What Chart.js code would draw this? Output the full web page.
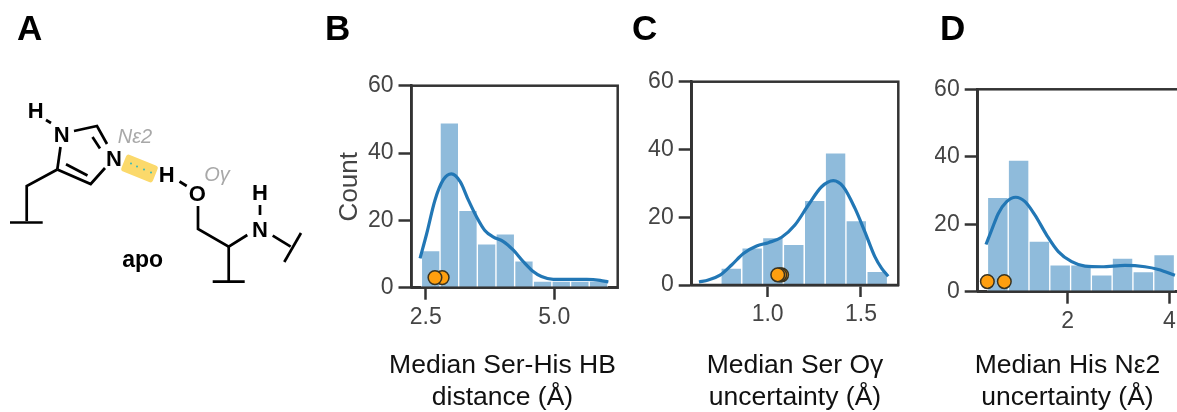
<!DOCTYPE html>
<html>
<head>
<meta charset="utf-8">
<title>Ser-His hydrogen bond histograms</title>
<script src="https://cdn.jsdelivr.net/npm/chart.js@4"></script>
<style>
  html, body { margin: 0; padding: 0; background: #fff; overflow: hidden; }
  #page { position: relative; width: 1177px; height: 412px; overflow: hidden; }
  canvas { position: absolute; }
  svg { position: absolute; left: 0; top: 0; }
  svg text { font-family: "Liberation Sans", Arial, sans-serif; }
</style>
</head>
<body>
<div id="page">
  <canvas id="chartB" width="300" height="352" style="left:330px;top:60px"></canvas>
  <canvas id="chartC" width="280" height="356" style="left:630px;top:56px"></canvas>
  <canvas id="chartD" width="270" height="352" style="left:935px;top:60px"></canvas>

  <svg width="1177" height="412">
    <text x="17" y="40" font-size="35" font-weight="bold">A</text>
    <text x="325" y="40" font-size="35" font-weight="bold">B</text>
    <text x="632" y="40" font-size="35" font-weight="bold">C</text>
    <text x="940" y="40" font-size="35" font-weight="bold">D</text>

    <!-- apo structure, panel A -->
    <rect x="-17" y="-9" width="34" height="18" rx="3" fill="#fbd96b" transform="translate(139.5 168.5) rotate(22)"/>
    <g fill="#35b8b8">
      <circle cx="131" cy="163.5" r="1"/><circle cx="137" cy="166.5" r="1"/>
      <circle cx="144" cy="169.5" r="1"/><circle cx="151" cy="172.5" r="1"/>
    </g>
    <g stroke="#000" stroke-width="2.7" fill="none" stroke-linejoin="miter">
      <path d="M46 120L51 123"/>
      <path d="M74 131L97 126L107 144"/>
      <path d="M92.500 137L100 148.500"/>
      <path d="M105 168L90.700 184L57.300 169.500"/>
      <path d="M87.500 175.500L66 164.300"/>
      <path d="M57.300 169.500L60.500 147"/>
      <path d="M57.300 169.500L26.700 186V221"/>
      <path d="M10 222.500H42.700"/>
      <path d="M179.500 181.500L186.700 186"/>
      <path d="M198 206V229L228.700 246.700L247.300 235"/>
      <path d="M228.700 246.700V281"/>
      <path d="M212.700 281.700H244.700"/>
      <path d="M260 205V215"/>
      <path d="M272.700 235.700L290.700 246.700"/>
      <path d="M301 233L284.300 262"/>
    </g>
    <g font-size="22" font-weight="bold" text-anchor="middle" fill="#000">
      <text x="35.700" y="118">H</text>
      <text x="61.700" y="142">N</text>
      <text x="114" y="166">N</text>
      <text x="166.700" y="182">H</text>
      <text x="197.300" y="200.500">O</text>
      <text x="260" y="200">H</text>
      <text x="260" y="237">N</text>
    </g>
    <text x="135" y="143" font-size="20" font-style="italic" fill="#a8a8a8" text-anchor="middle">Nε2</text>
    <text x="217" y="181" font-size="20" font-style="italic" fill="#a8a8a8" text-anchor="middle">Oγ</text>
    <text x="142.700" y="267" font-size="23" font-weight="bold" text-anchor="middle">apo</text>

    <!-- x axis captions -->
    <g font-size="26.500" text-anchor="middle" fill="#111">
      <text x="502.500" y="373">Median Ser-His HB</text>
      <text x="502.500" y="404.500">distance (Å)</text>
      <text x="795" y="373">Median Ser Oγ</text>
      <text x="795" y="404.500">uncertainty (Å)</text>
      <text x="1067.500" y="373">Median His Nε2</text>
      <text x="1067.500" y="404.500">uncertainty (Å)</text>
    </g>
  </svg>
</div>

<script>
// Panel B - Ser-His HB distance
const bBins = [2.597, 2.960, 3.322, 3.685, 4.047, 4.410, 4.772, 5.135, 5.497, 5.860];
const bCounts = [11, 49, 23, 13, 16, 8, 2, 2, 2, 2];
const bKdeX = [2.39, 2.52, 2.68, 2.84, 3.0, 3.17, 3.33, 3.49, 3.65, 3.81, 4.01, 4.2, 4.4, 4.59, 4.75, 4.98, 5.3, 5.63, 5.89, 6.05];
const bKdeY = [8.7, 16.1, 26, 32, 33.8, 31.5, 26, 21, 17, 15.1, 13.7, 11.2, 7.7, 4.8, 3.3, 2.5, 2.5, 2.5, 2.2, 1.7];
const bDotsX = [2.82, 2.68];
const bDotsY = [3, 3];
const bTicks = [2.5, 5.0];

// Panel C - Ser O-gamma uncertainty
const cBins = [0.805, 0.917, 1.028, 1.140, 1.252, 1.364, 1.475, 1.587];
const cCounts = [5, 11, 14, 12, 25, 39, 19, 4];
const cKdeX = [0.632, 0.682, 0.745, 0.807, 0.87, 0.941, 1.004, 1.075, 1.146, 1.218, 1.289, 1.352, 1.405, 1.468, 1.521, 1.575, 1.611, 1.646];
const cKdeY = [0.9, 1.5, 2.9, 5.9, 9.3, 11.5, 12.5, 14.1, 17.7, 23.6, 29, 30.8, 29, 22.6, 15.7, 8.3, 4.9, 2.6];
const cDotsX = [1.075, 1.065, 1.054];
const cDotsY = [3, 3, 3];
const cTicks = [1.0, 1.5];

// Panel D - His N-epsilon2 uncertainty
const dBins = [0.626, 1.035, 1.444, 1.853, 2.262, 2.671, 3.08, 3.489, 3.898];
const dCounts = [28, 39, 15, 8, 8, 5, 10, 6, 11];
const dKdeX = [0.393, 0.505, 0.636, 0.8, 0.977, 1.161, 1.357, 1.587, 1.816, 2.079, 2.341, 2.669, 3.128, 3.521, 3.784, 4.111];
const dKdeY = [14, 18.3, 23.2, 26.7, 28, 26.7, 22.7, 16.8, 11.9, 8.9, 7.6, 7.4, 7.8, 7.4, 6.6, 4.9];
const dDotsX = [0.42, 0.754];
const dDotsY = [3, 3];
const dTicks = [2, 4];

const countTicks = [0, 20, 40, 60];

const AXIS_COLOR = '#333333';
const TEXT_COLOR = '#444444';

function pairs(xs, ys) {
  return xs.map((x, i) => ({x: x, y: ys[i]}));
}

// draws the top and right spines, chart.js only has the axis lines
const frame = {
  id: 'frame',
  afterDatasetsDraw(chart) {
    const a = chart.chartArea, ctx = chart.ctx;
    ctx.save();
    ctx.strokeStyle = AXIS_COLOR;
    ctx.lineWidth = 2.5;
    ctx.strokeRect(a.left, a.top, a.right - a.left, a.bottom - a.top);
    ctx.restore();
  }
};

function drawPanel(id, p) {
  new Chart(document.getElementById(id), {
    type: 'bar',
    data: {
      datasets: [
        {
          type: 'scatter',
          data: pairs(p.dotsX, p.dotsY),
          pointRadius: 6.8,
          pointBackgroundColor: '#ff9f0f',
          pointBorderColor: '#3a3320',
          pointBorderWidth: 1.5,
          order: 1
        },
        {
          type: 'line',
          data: pairs(p.kdeX, p.kdeY),
          borderColor: '#2277b5',
          borderWidth: 3.2,
          pointRadius: 0,
          tension: 0.4,
          cubicInterpolationMode: 'monotone',
          fill: false,
          order: 2
        },
        {
          type: 'bar',
          data: pairs(p.bins, p.counts),
          backgroundColor: '#8fbbdb',
          borderColor: '#ffffff',
          borderWidth: 1,
          barPercentage: 1,
          categoryPercentage: 1,
          order: 3
        }
      ]
    },
    plugins: [frame],
    options: {
      responsive: false,
      animation: false,
      events: [],
      layout: {autoPadding: false, padding: {top: p.padTop, right: p.padRight, left: 0, bottom: 0}},
      plugins: {legend: {display: false}, tooltip: {enabled: false}},
      scales: {
        x: {
          type: 'linear',
          min: p.xMin,
          max: p.xMax,
          offset: false,
          grid: {display: true, offset: false, drawOnChartArea: false, tickLength: 12, tickWidth: 2.5, tickColor: AXIS_COLOR},
          border: {display: true, color: AXIS_COLOR, width: 2.5},
          ticks: {
            color: TEXT_COLOR,
            font: {family: '"Liberation Sans", Arial, sans-serif', size: 23},
            padding: 4,
            maxRotation: 0,
            autoSkip: false,
            callback: v => v.toFixed(p.decimals)
          },
          afterBuildTicks: s => { s.ticks = p.ticks.map(v => ({value: v})); },
          afterFit: s => { s.height = p.xHeight; }
        },
        y: {
          min: 0,
          max: 60,
          grid: {display: true, drawOnChartArea: false, tickLength: 13, tickWidth: 2.5, tickColor: AXIS_COLOR},
          border: {display: true, color: AXIS_COLOR, width: 2.5},
          title: {
            display: !!p.yTitle,
            text: p.yTitle,
            color: TEXT_COLOR,
            font: {family: '"Liberation Sans", Arial, sans-serif', size: 26},
            padding: {top: 4, bottom: 0}
          },
          ticks: {
            color: TEXT_COLOR,
            font: {family: '"Liberation Sans", Arial, sans-serif', size: 23},
            padding: 5
          },
          afterBuildTicks: s => { s.ticks = countTicks.map(v => ({value: v})); },
          afterFit: s => { s.width = p.yWidth; }
        }
      }
    }
  });
}

drawPanel('chartB', {
  bins: bBins, counts: bCounts, kdeX: bKdeX, kdeY: bKdeY, dotsX: bDotsX, dotsY: bDotsY, ticks: bTicks,
  xMin: 2.224, xMax: 6.232, decimals: 1, yTitle: 'Count',
  padTop: 25.7, padRight: 12.3, xHeight: 124.3, yWidth: 81.5
});
drawPanel('chartC', {
  bins: cBins, counts: cCounts, kdeX: cKdeX, kdeY: cKdeY, dotsX: cDotsX, dotsY: cDotsY, ticks: cTicks,
  xMin: 0.593, xMax: 1.7, decimals: 1, yTitle: '',
  padTop: 25.7, padRight: 11.7, xHeight: 127, yWidth: 61.7
});
drawPanel('chartD', {
  bins: dBins, counts: dCounts, kdeX: dKdeX, kdeY: dKdeY, dotsX: dDotsX, dotsY: dDotsY, ticks: dTicks,
  xMin: 0.23, xMax: 4.6, decimals: 0, yTitle: '',
  padTop: 29.3, padRight: 5.2, xHeight: 120.3, yWidth: 42.7
});
</script>
</body>
</html>
